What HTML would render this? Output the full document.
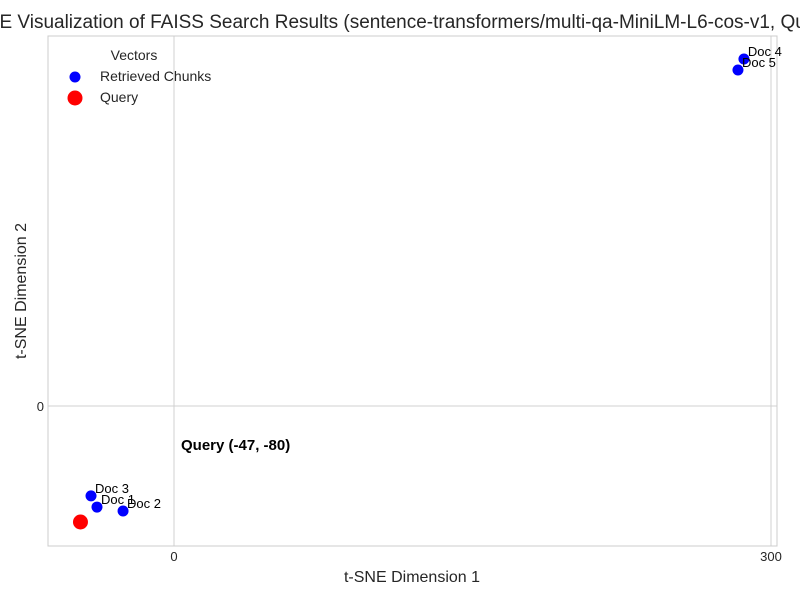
<!DOCTYPE html>
<html><head><meta charset="utf-8"><style>
body{margin:0;background:#fff;width:800px;height:600px;overflow:hidden;font-family:"Liberation Sans",sans-serif}
</style></head><body>
<svg id="c" width="800" height="600" xmlns="http://www.w3.org/2000/svg" font-family="Liberation Sans, sans-serif">
<text x="400" y="28" text-anchor="middle" font-size="19" fill="#262626">t-SNE Visualization of FAISS Search Results (sentence-transformers/multi-qa-MiniLM-L6-cos-v1, Query)</text>
<g id="grid"></g>
<rect x="48" y="36" width="729" height="510" fill="none" stroke="#ccc" stroke-width="1"/>
<g id="marks"></g>
<text x="412" y="582" text-anchor="middle" font-size="16" fill="#262626">t-SNE Dimension 1</text>
<text transform="translate(26,291) rotate(-90)" text-anchor="middle" font-size="16" fill="#262626">t-SNE Dimension 2</text>
<g>
<text x="134" y="60" text-anchor="middle" font-size="14" fill="#262626">Vectors</text>
<circle cx="75" cy="77" r="5.5" fill="#0000ff"/>
<text x="100" y="81" font-size="14" fill="#262626">Retrieved Chunks</text>
<circle cx="75" cy="98" r="7.5" fill="#ff0000"/>
<text x="100" y="102" font-size="14" fill="#262626">Query</text>
</g>
</svg>
<script>
const docLabels=["Doc 1","Doc 2","Doc 3","Doc 4","Doc 5"];
const docX=[-38.7,-25.6,-41.7,286.4,283.4];
const docY=[-69.7,-72.4,-62,239.3,231.7];
const queryX=[-47];
const queryY=[-80];
const xTicks=[0,300];
const yTicks=[0];
const NS="http://www.w3.org/2000/svg";
const sx=v=>174+v*1.99;
const sy=v=>406-v*1.45;
const g=document.getElementById('grid'),m=document.getElementById('marks');
function mk(t,a,p){const e=document.createElementNS(NS,t);for(const k in a)e.setAttribute(k,a[k]);p.appendChild(e);return e;}
xTicks.forEach(t=>{
 const l=mk('line',{x1:sx(t),x2:sx(t),y1:36,y2:546,stroke:'#d0d0d0'},g);
 
 
 const tx=mk('text',{x:sx(t),y:561,'text-anchor':'middle','font-size':13,fill:'#262626'},g);
 tx.textContent=t;
 
 
});
yTicks.forEach(t=>{
 const l=mk('line',{x1:48,x2:777,y1:sy(t),y2:sy(t),stroke:'#d0d0d0'},g);
 
 
 const tx=mk('text',{x:44,y:sy(t)+5,'text-anchor':'end','font-size':13,fill:'#262626'},g);
 tx.textContent=t;
 
 
});
docX.forEach((x,i)=>{
 const c=mk('circle',{cx:sx(x),cy:sy(docY[i]),r:5.5,fill:'#0000ff'},m);
 
 
 const t=mk('text',{x:sx(x)+4,y:sy(docY[i])-3,'font-size':13,fill:'#000'},m);
 t.textContent=docLabels[i];
 
 
});
queryX.forEach((x,i)=>{
 const c=mk('circle',{cx:sx(x),cy:sy(queryY[i]),r:7.5,fill:'#ff0000'},m);
 
 
 const t=mk('text',{x:181,y:450,'font-size':15,'font-weight':'bold',fill:'#000'},m);
 t.textContent='Query ('+x+', '+queryY[i]+')';
 
 
});
</script>
</body></html>
